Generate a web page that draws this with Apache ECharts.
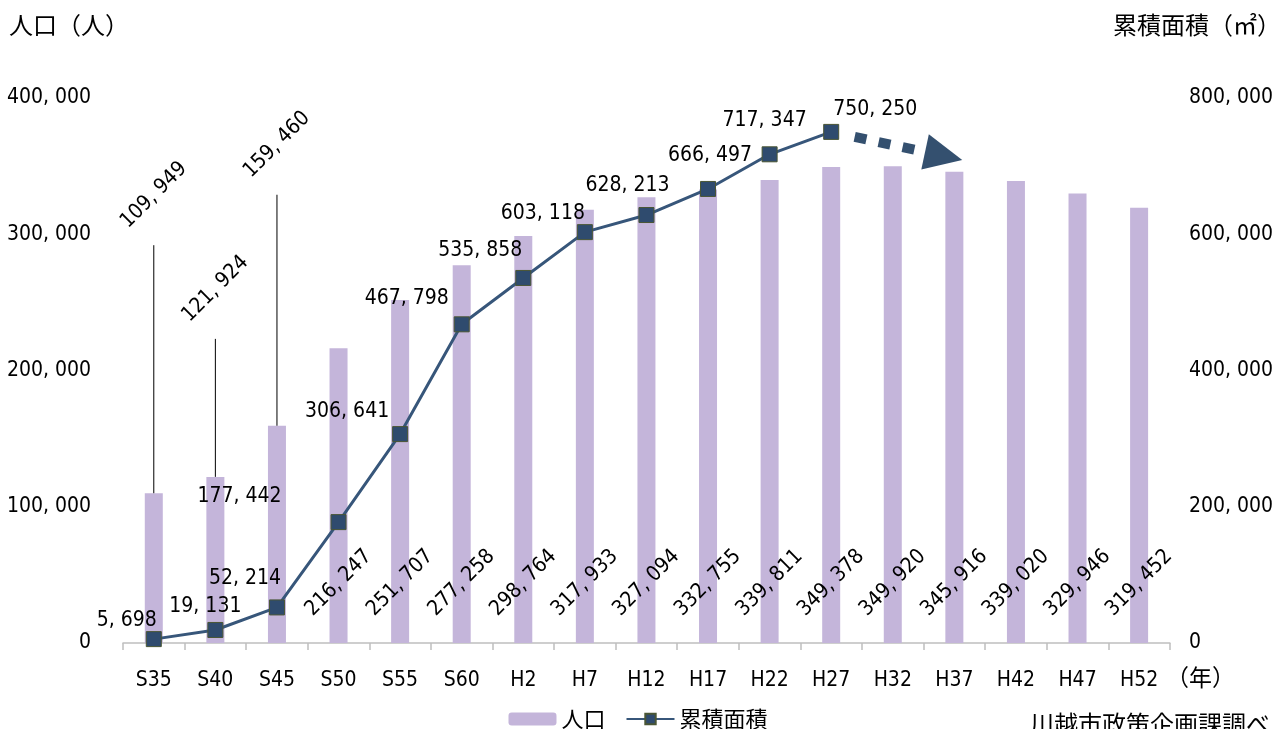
<!DOCTYPE html>
<html lang="ja">
<head>
<meta charset="utf-8">
<title>人口と累積面積</title>
<script src="https://cdn.jsdelivr.net/npm/echarts@6/dist/echarts.min.js"></script>
<style>
  html, body { margin: 0; padding: 0; background: #ffffff; }
  #chart { width: 1276px; height: 729px; }
</style>
</head>
<body>
<div id="chart"></div>
<script>
// Survey years (Showa / Heisei)
const categories = ['S35', 'S40', 'S45', 'S50', 'S55', 'S60', 'H2', 'H7', 'H12',
  'H17', 'H22', 'H27', 'H32', 'H37', 'H42', 'H47', 'H52'];

// Population (persons)
const population = [109949, 121924, 159460, 216247, 251707, 277258, 298764, 317933,
  327094, 332755, 339811, 349378, 349920, 345916, 339020, 329946, 319452];

// Cumulative floor area (m²), recorded up to H27
const cumulativeArea = [5698, 19131, 52214, 177442, 306641, 467798, 535858, 603118,
  628213, 666497, 717347, 750250];

// Axis scales
const popMax = 400000, popStep = 100000;
const areaMax = 800000, areaStep = 200000;

// Layout: leader-line lengths (px) for the first bars, whose values sit above them
const leaderLen = [248, 138, 231];
// Layout: label offsets (px) from each line point
const areaLabelOffset = [[-27, -19], [-10, -23], [-32, -29], [-99, -26], [-53, -23],
  [-55, -26], [-43, -27], [-42, -19], [-19, -29], [2, -33], [-5, -34], [44, -22]];

const NUM_FONT = '"DejaVu Sans Condensed", "Liberation Sans Narrow", "Liberation Sans", sans-serif';
const JP_FONT = '"Noto Sans CJK JP", "Noto Sans", sans-serif';
const NUM_SIZE = 21;

const fmt = v => String(v).replace(/\B(?=(\d{3})+(?!\d))/g, ', ');

const BAR_COLOR = '#C4B5DA';
const LINE_COLOR = '#37567A';
const MARK_COLOR = '#2F4B6E';

const chart = echarts.init(document.getElementById('chart'), null, { renderer: 'canvas' });

const barData = population.map((v, i) =>
  i < leaderLen.length ? { value: v, label: { show: false } } : v);

const lineData = cumulativeArea.map((v, i) => ({
  value: v,
  label: { offset: areaLabelOffset[i] }
}));

const option = {
  animation: false,
  backgroundColor: '#ffffff',
  grid: { left: 123, right: 105, top: 98, bottom: 86, containLabel: false },
  legend: {
    data: ['人口', '累積面積'],
    left: 'center',
    top: 703,
    itemWidth: 48,
    itemHeight: 13,
    itemGap: 20,
    textStyle: { fontFamily: JP_FONT, fontSize: 22, color: '#000' }
  },
  xAxis: {
    type: 'category',
    data: categories,
    boundaryGap: true,
    axisLine: { lineStyle: { color: '#BFBFBF', width: 1.5 } },
    axisTick: { show: true, length: 7, lineStyle: { color: '#BFBFBF', width: 1.5 } },
    axisLabel: {
      margin: 27,
      fontFamily: NUM_FONT,
      fontSize: NUM_SIZE,
      color: '#000'
    },
    splitLine: { show: false }
  },
  yAxis: [
    {
      type: 'value',
      min: 0, max: popMax, interval: popStep,
      axisLine: { show: false },
      axisTick: { show: false },
      splitLine: { show: false },
      axisLabel: {
        margin: 32,
        fontFamily: NUM_FONT,
        fontSize: NUM_SIZE,
        color: '#000',
        formatter: fmt
      }
    },
    {
      type: 'value',
      min: 0, max: areaMax, interval: areaStep,
      position: 'right',
      axisLine: { show: false },
      axisTick: { show: false },
      splitLine: { show: false },
      axisLabel: {
        margin: 19,
        fontFamily: NUM_FONT,
        fontSize: NUM_SIZE,
        color: '#000',
        formatter: fmt
      }
    }
  ],
  graphic: [
    { type: 'text', left: 9, top: 13,
      style: { text: '人口（人）', font: '24px ' + JP_FONT, fill: '#000' } },
    { type: 'text', left: 1113, top: 13,
      style: { text: '累積面積（㎡）', font: '24px ' + JP_FONT, fill: '#000' } },
    { type: 'text', left: 1166, top: 666,
      style: { text: '（年）', font: '23px ' + JP_FONT, fill: '#000' } },
    { type: 'text', left: 1030, top: 712,
      style: { text: '川越市政策企画課調べ', font: '24px ' + JP_FONT, fill: '#000' } }
  ],
  series: [
    {
      name: '人口',
      type: 'bar',
      yAxisIndex: 0,
      data: barData,
      barWidth: 18,
      itemStyle: { color: BAR_COLOR },
      label: {
        show: true,
        position: 'insideBottom',
        distance: 60,
        rotate: 45,
        align: 'center',
        verticalAlign: 'middle',
        fontFamily: NUM_FONT,
        fontSize: NUM_SIZE,
        color: '#000',
        formatter: p => fmt(p.value)
      },
      z: 2
    },
    {
      name: '累積面積',
      type: 'line',
      yAxisIndex: 1,
      data: lineData,
      symbol: 'rect',
      symbolSize: 15,
      showAllSymbol: true,
      lineStyle: { color: LINE_COLOR, width: 3 },
      itemStyle: { color: MARK_COLOR, borderColor: '#4A5634', borderWidth: 1 },
      label: {
        show: true,
        position: 'inside',
        align: 'center',
        verticalAlign: 'middle',
        fontFamily: NUM_FONT,
        fontSize: NUM_SIZE,
        color: '#000',
        formatter: p => fmt(p.value)
      },
      z: 4
    },
    {
      // Leader lines and values for the first bars
      type: 'custom',
      yAxisIndex: 0,
      silent: true,
      data: leaderLen.map((_, i) => [i, population[i]]),
      renderItem: (params, api) => {
        const top = api.coord([api.value(0), api.value(1)]);
        const y1 = top[1] - leaderLen[params.dataIndex];
        return {
          type: 'group',
          children: [
            { type: 'line',
              shape: { x1: top[0], y1: top[1], x2: top[0], y2: y1 },
              style: { stroke: '#000', lineWidth: 1 } },
            { type: 'text', x: top[0], y: y1 - 50, rotation: Math.PI / 4,
              style: { text: fmt(api.value(1)), align: 'center', verticalAlign: 'middle',
                font: NUM_SIZE + 'px ' + NUM_FONT, fill: '#000' } }
          ]
        };
      },
      z: 5
    },
    {
      // Dashed trend arrow continuing from the last recorded point
      type: 'custom',
      yAxisIndex: 1,
      silent: true,
      data: [[cumulativeArea.length - 1, cumulativeArea[cumulativeArea.length - 1]]],
      renderItem: (params, api) => {
        const p = api.coord([api.value(0), api.value(1)]);
        const ang = Math.atan2(28, 131);
        const ux = Math.cos(ang), uy = Math.sin(ang);
        const nx = -uy, ny = ux;
        const at = d => [p[0] + ux * d, p[1] + uy * d];
        const a = at(24), b = at(86);
        const base = at(96), tip = at(134);
        const hw = 18;
        return {
          type: 'group',
          children: [
            { type: 'line',
              shape: { x1: a[0], y1: a[1], x2: b[0], y2: b[1] },
              style: { stroke: '#34506F', lineWidth: 10, lineDash: [12, 12.5], lineCap: 'butt' } },
            { type: 'polygon',
              shape: { points: [
                [base[0] + nx * hw, base[1] + ny * hw],
                tip,
                [base[0] - nx * hw, base[1] - ny * hw]
              ] },
              style: { fill: '#34506F' } }
          ]
        };
      },
      z: 3
    }
  ]
};

chart.setOption(option);
</script>
</body>
</html>
